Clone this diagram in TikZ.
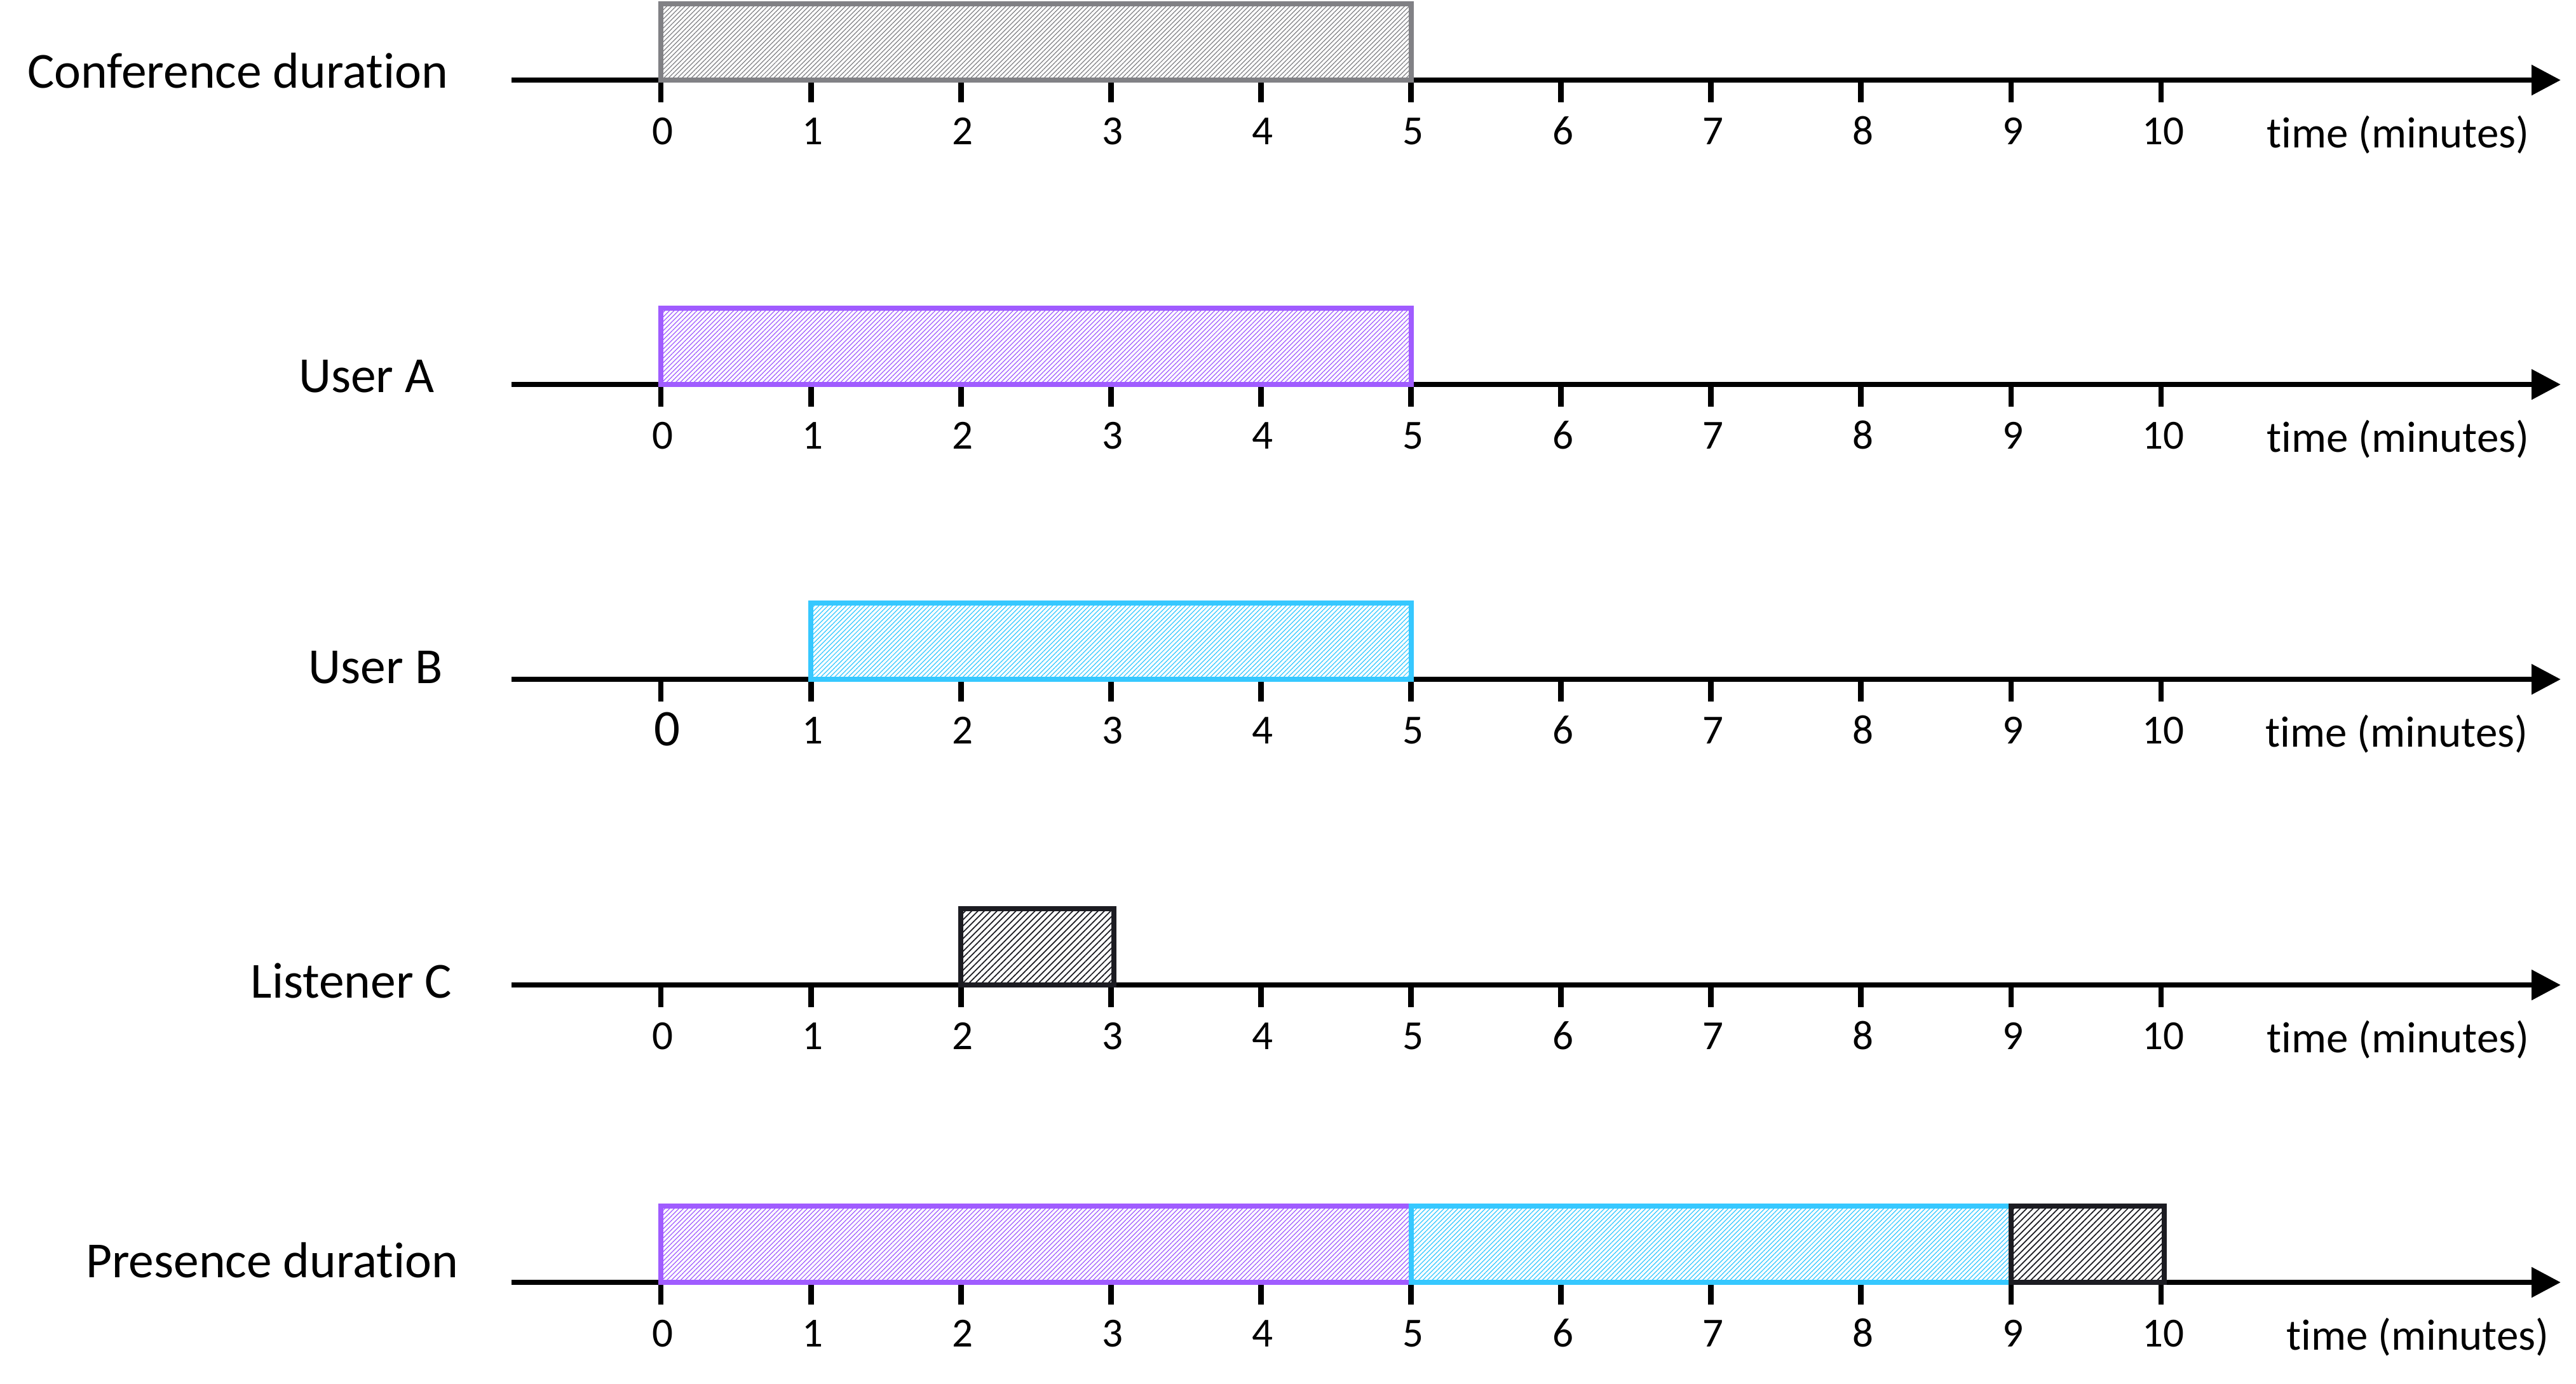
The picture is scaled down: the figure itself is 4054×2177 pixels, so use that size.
\documentclass[tikz,border=0pt]{standalone}
\usepackage{fontspec}
\setmainfont[Ligatures=NoCommon]{Carlito}
\usepackage{xcolor}
\usetikzlibrary{arrows.meta,patterns.meta}
\definecolor{confgray}{HTML}{818185}
\definecolor{userpurple}{HTML}{A05CFF}
\definecolor{userblue}{HTML}{36C8FF}
\definecolor{listendark}{HTML}{1C1C22}

\begin{document}
\begin{tikzpicture}[
  x=0.01cm, y=-0.01cm,
  >={Triangle[length=4.6mm, width=4.6mm]},
  axisline/.style={->, line width=2.5pt, draw=black},
  tickmark/.style={line width=2.5pt, draw=black},
  bar/.style={line width=2.5pt, draw=#1, pattern color=#1,
              pattern={Lines[angle=45, distance=1.45pt, line width=0.35pt]}},
  darkbar/.style={line width=2.5pt, draw=#1, pattern color=#1,
              pattern={Lines[angle=45, distance=2pt, line width=0.5pt]}},
  rowlabel/.style={anchor=base east, inner sep=0pt, font=\fontsize{22.6pt}{26pt}\selectfont},
  ticklabel/.style={anchor=base, inner sep=0pt, font=\fontsize{18.5pt}{22pt}\selectfont},
  timelabel/.style={anchor=base east, inner sep=0pt, font=\fontsize{19.6pt}{23pt}\selectfont}]

  \useasboundingbox (0,0) rectangle (4054,2177);

  % axes, ticks and numbers
  \foreach \row/\ay/\first/\tx in {conf/126/0/3981, usera/605/0/3981, userb/1069/1/3979,
                                    listc/1550/0/3981, pres/2018/0/4012} {
    \coordinate (\row-start) at (805,\ay);
    \coordinate (\row-end) at (4030,\ay);
    \draw[axisline] (\row-start) -- (\row-end);
    \foreach \n in {0,...,10}
      \draw[tickmark] (1040+236.1*\n,\ay) -- ++(0,35);
    \foreach \n in {\first,...,10}
      \node[ticklabel] (\row-n\n) at (1043+236.1*\n,\ay+101) {\n};
    \node[timelabel] (\row-time) at (\tx,\ay+106) {time (minutes)};
  }
  \node[ticklabel, font=\fontsize{23pt}{26pt}\selectfont] (userb-n0) at (1050,1173) {0};

  % row names
  \node[rowlabel] (conf-label) at (706,138) {Conference duration};
  \node[rowlabel] (usera-label) at (684,617) {User A};
  \node[rowlabel] (userb-label) at (697,1075) {User B};
  \node[rowlabel] (listc-label) at (712,1570) {Listener C};
  \node[rowlabel] (pres-label) at (722,2010) {Presence duration};

  % durations
  \draw[bar=confgray] (1040,126) rectangle (2221,6);
  \draw[bar=userpurple] (1040,605) rectangle (2221,485);
  \draw[bar=userblue] (1276,1069) rectangle (2221,949);
  \draw[darkbar=listendark] (1512,1550) rectangle (1753,1430);
  \draw[bar=userpurple] (1040,2018) rectangle (2221,1898);
  \draw[bar=userblue] (2221,2018) rectangle (3165,1898);
  \draw[darkbar=listendark] (3165,2018) rectangle (3406,1898);
\end{tikzpicture}
\end{document}
